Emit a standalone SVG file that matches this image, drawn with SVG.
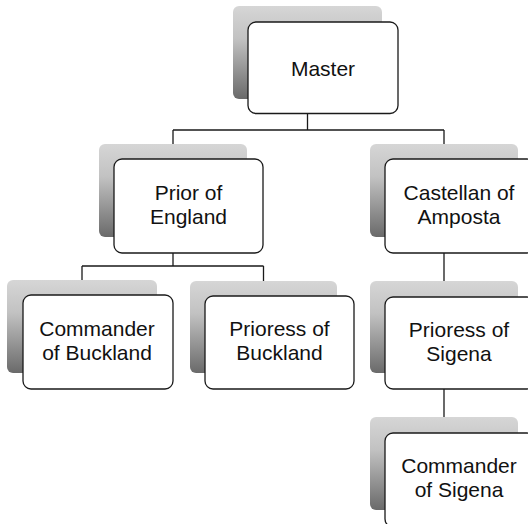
<svg xmlns="http://www.w3.org/2000/svg" width="528" height="524" viewBox="0 0 528 524">
  <defs>
    <linearGradient id="shade" x1="0" y1="0" x2="0" y2="1">
      <stop offset="0" stop-color="#d6d6d6"/>
      <stop offset="0.35" stop-color="#c2c2c2"/>
      <stop offset="1" stop-color="#6a6a6a"/>
    </linearGradient>
  </defs>
  <style>
    .sh { fill: url(#shade); }
    .bx { fill: #ffffff; stroke: #1a1a1a; stroke-width: 1.3; }
    .tx { font-family: "Liberation Sans", Arial, Helvetica, sans-serif; font-size: 21px; fill: #111111; text-anchor: middle; }
    .cn { fill: none; stroke: #1a1a1a; stroke-width: 1.3; }
  </style>
  <rect width="528" height="524" fill="#ffffff"/>

  <g id="connectors">
    <path class="cn" d="M307.5,113 V130 M173,130 H444 M173,130 V144 M444,130 V144"/>
    <path class="cn" d="M173,253 V266 M82,266 H263.5 M82,266 V280 M263.5,266 V281"/>
    <path class="cn" d="M444,253 V281"/>
    <path class="cn" d="M444,389 V417"/>
  </g>

  <g id="master">
    <rect class="sh" x="233" y="6" width="149" height="93" rx="6"/>
    <rect class="bx" x="248" y="22" width="150" height="91.5" rx="8"/>
    <text class="tx" x="323" y="76">Master</text>
  </g>

  <g id="prior-england">
    <rect class="sh" x="99" y="144" width="148" height="93" rx="6"/>
    <rect class="bx" x="114" y="159" width="149" height="94" rx="8"/>
    <text class="tx" x="188.5" y="200">Prior of</text>
    <text class="tx" x="188.5" y="224">England</text>
  </g>

  <g id="castellan-amposta">
    <rect class="sh" x="370" y="144" width="148" height="93" rx="6"/>
    <rect class="bx" x="385" y="159" width="150" height="94" rx="8"/>
    <text class="tx" x="459" y="200">Castellan of</text>
    <text class="tx" x="459" y="224">Amposta</text>
  </g>

  <g id="commander-buckland">
    <rect class="sh" x="7" y="280" width="150" height="93" rx="6"/>
    <rect class="bx" x="23" y="295" width="150" height="94" rx="8"/>
    <text class="tx" x="97" y="336">Commander</text>
    <text class="tx" x="97" y="360">of Buckland</text>
  </g>

  <g id="prioress-buckland">
    <rect class="sh" x="190" y="281" width="147" height="92" rx="6"/>
    <rect class="bx" x="205" y="296" width="149" height="93" rx="8"/>
    <text class="tx" x="279.5" y="336">Prioress of</text>
    <text class="tx" x="279.5" y="360">Buckland</text>
  </g>

  <g id="prioress-sigena">
    <rect class="sh" x="370" y="281" width="148" height="92" rx="6"/>
    <rect class="bx" x="385" y="297" width="150" height="92" rx="8"/>
    <text class="tx" x="459" y="337">Prioress of</text>
    <text class="tx" x="459" y="361">Sigena</text>
  </g>

  <g id="commander-sigena">
    <rect class="sh" x="370" y="417" width="148" height="93" rx="6"/>
    <rect class="bx" x="385" y="433" width="150" height="94" rx="8"/>
    <text class="tx" x="459" y="473">Commander</text>
    <text class="tx" x="459" y="497">of Sigena</text>
  </g>
</svg>
